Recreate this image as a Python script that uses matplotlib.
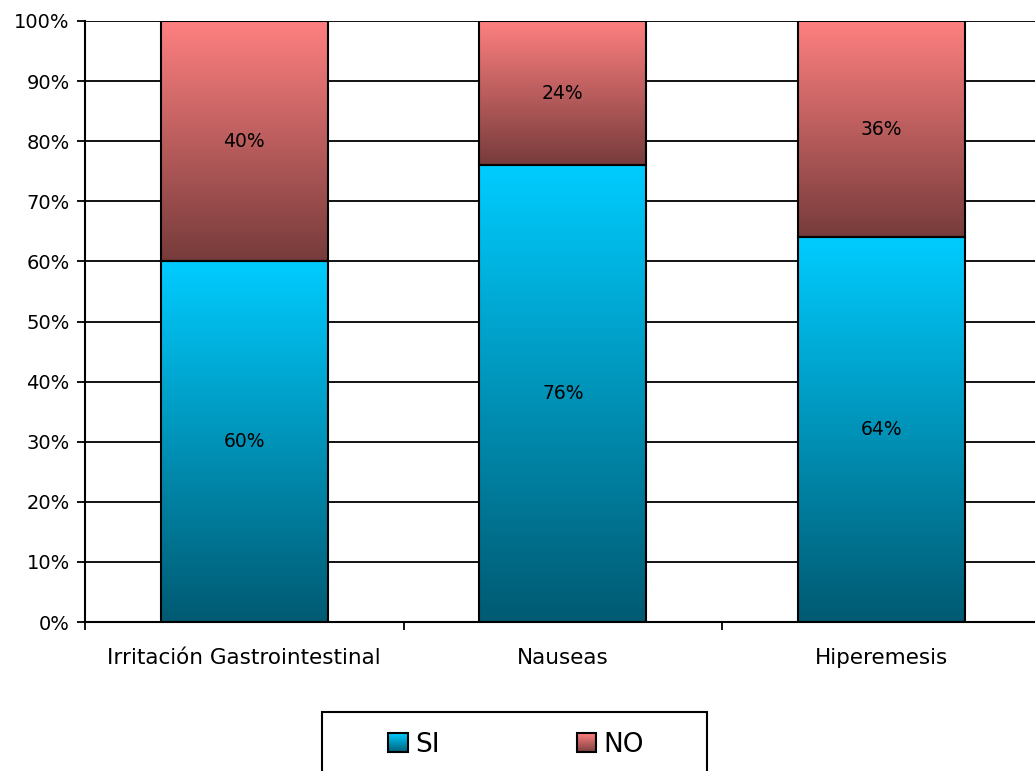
"""Stacked 100% bar chart: SI / NO por síntoma."""

import numpy as np
import matplotlib
matplotlib.use('Agg')
import matplotlib.pyplot as plt
from matplotlib.colors import LinearSegmentedColormap
from matplotlib.patches import Rectangle
from matplotlib.legend_handler import HandlerBase

categories = ['Irritación Gastrointestinal', 'Nauseas', 'Hiperemesis']
si_values = [60, 76, 64]
no_values = [40, 24, 36]
series_names = ['SI', 'NO']
y_ticks = [0, 10, 20, 30, 40, 50, 60, 70, 80, 90, 100]

si_cmap = LinearSegmentedColormap.from_list('si', ['#005a72', '#00ccff'])
no_cmap = LinearSegmentedColormap.from_list('no', ['#773b3b', '#ff8080'])

plt.rcParams['font.family'] = ['DejaVu Sans']


class GradientHandler(HandlerBase):
    """Legend key drawn as a small vertical gradient square."""

    def __init__(self, cmap):
        super().__init__()
        self.cmap = cmap

    def create_artists(self, legend, orig_handle, xdescent, ydescent,
                       width, height, fontsize, trans):
        n = 20
        arts = []
        for i in range(n):
            arts.append(Rectangle((-xdescent, -ydescent + height * i / n),
                                  width, height / n + 0.2,
                                  facecolor=self.cmap((i + 0.5) / n),
                                  edgecolor='none', transform=trans))
        arts.append(Rectangle((-xdescent, -ydescent), width, height,
                              facecolor='none', edgecolor='black',
                              linewidth=1.5, transform=trans))
        return arts


fig = plt.figure(figsize=(10.35, 7.71), dpi=100)
ax = fig.add_axes([85 / 1035, 149 / 771, 955.5 / 1035, 601 / 771])

x = np.arange(len(categories))
width = 0.524
grad = np.linspace(0, 1, 256).reshape(-1, 1)


def gradient_fill(bars, cmap):
    for bar in bars:
        x0, y0 = bar.get_x(), bar.get_y()
        w, h = bar.get_width(), bar.get_height()
        ax.imshow(grad, cmap=cmap, origin='lower', aspect='auto',
                  extent=(x0, x0 + w, y0, y0 + h), zorder=1.5,
                  interpolation='bilinear')


si_bars = ax.bar(x, si_values, width, facecolor='none', edgecolor='black',
                 linewidth=1.5, zorder=3)
no_bars = ax.bar(x, no_values, width, bottom=si_values, facecolor='none',
                 edgecolor='black', linewidth=1.5, zorder=3)
gradient_fill(si_bars, si_cmap)
gradient_fill(no_bars, no_cmap)

for xi, s, n in zip(x, si_values, no_values):
    ax.text(xi, s / 2, f'{s}%', ha='center', va='center', fontsize=13.5, zorder=4)
    ax.text(xi, s + n / 2, f'{n}%', ha='center', va='center', fontsize=13.5, zorder=4)

ax.set_xlim(-0.5, 2.5)
ax.set_ylim(0, 100)
ax.set_yticks(y_ticks)
ax.set_yticklabels([f'{v}%' for v in y_ticks])
ax.set_xticks(x)
ax.set_xticklabels(categories)
ax.set_xticks([-0.5, 0.5, 1.5, 2.5], minor=True)
ax.tick_params(axis='x', which='major', length=0, pad=19, labelsize=15.5)
ax.tick_params(axis='x', which='minor', length=6, width=1.3, color='black')
ax.tick_params(axis='y', length=6, width=1.3, pad=5, labelsize=14)

ax.yaxis.grid(True, color='black', linewidth=1.3)
ax.set_axisbelow(True)
for side in ['top', 'right']:
    ax.spines[side].set_visible(False)
for side in ['left', 'bottom']:
    ax.spines[side].set_linewidth(1.5)

# legend: frame drawn separately, it runs off the bottom of the picture
fig.patches.append(Rectangle((322 / 1035, -0.05), 385 / 1035, 0.05 + 59 / 771,
                             transform=fig.transFigure, facecolor='white',
                             edgecolor='black', linewidth=1.5))
h_si = Rectangle((0, 0), 1, 1)
h_no = Rectangle((0, 0), 1, 1)
fig.legend([h_si, h_no], series_names, loc='center',
           bbox_to_anchor=(516 / 1035, 1 - 745 / 771), ncol=2, frameon=False,
           fontsize=19, handlelength=0.75, handleheight=0.75,
           handletextpad=0.25, columnspacing=5.2,
           handler_map={h_si: GradientHandler(si_cmap),
                        h_no: GradientHandler(no_cmap)})

fig.savefig('out.png', dpi=100)
